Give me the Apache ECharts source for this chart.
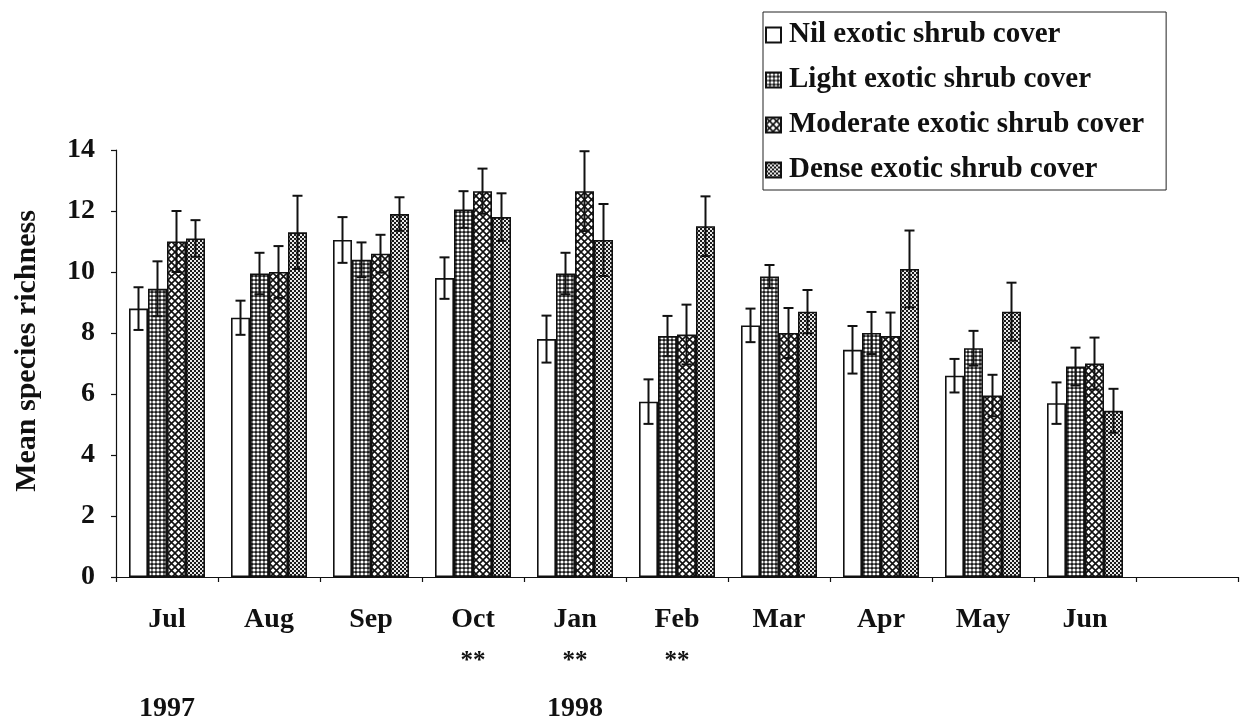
<!DOCTYPE html>
<html>
<head>
<meta charset="utf-8">
<script src="https://cdn.jsdelivr.net/npm/echarts@6/dist/echarts.min.js"></script>
<style>
  html, body { margin: 0; padding: 0; background: #fff; }
  #chart { width: 1240px; height: 723px; }
</style>
</head>
<body>
<div id="chart"></div>
<script>
// Sampling months (last slot left empty so the axis runs on past June)
const months = ['Jul', 'Aug', 'Sep', 'Oct', 'Jan', 'Feb', 'Mar', 'Apr', 'May', 'Jun', ''];
const signif = ['', '', '', '**', '**', '**', '', '', '', '', ''];
const years = ['1997', '', '', '', '1998', '', '', '', '', '', ''];

const seriesNames = [
  'Nil exotic shrub cover',
  'Light exotic shrub cover',
  'Moderate exotic shrub cover',
  'Dense exotic shrub cover'
];

// Mean species richness per month
const nilMean      = [8.8, 8.5, 11.05, 9.8, 7.8, 5.75, 8.25, 7.45, 6.6, 5.7];
const lightMean    = [9.45, 9.95, 10.4, 12.05, 9.95, 7.9, 9.85, 8.0, 7.5, 6.9];
const moderateMean = [11.0, 10.0, 10.6, 12.65, 12.65, 7.95, 8.0, 7.9, 5.95, 7.0];
const denseMean    = [11.1, 11.3, 11.9, 11.8, 11.05, 11.5, 8.7, 10.1, 8.7, 5.45];

// Standard errors
const nilSE      = [0.7, 0.56, 0.75, 0.68, 0.77, 0.73, 0.55, 0.78, 0.55, 0.68];
const lightSE    = [0.9, 0.68, 0.57, 0.6, 0.68, 0.66, 0.38, 0.69, 0.57, 0.62];
const moderateSE = [1.0, 0.85, 0.62, 0.74, 1.31, 0.98, 0.82, 0.77, 0.68, 0.85];
const denseSE    = [0.6, 1.2, 0.55, 0.78, 1.18, 0.98, 0.71, 1.26, 0.95, 0.72];

const yTicks = { min: 0, max: 14, interval: 2 };

const means = [nilMean, lightMean, moderateMean, denseMean];
const errors = [nilSE, lightSE, moderateSE, denseSE];

// Hatch fills drawn into small tiles
function tile(size, draw) {
  const c = document.createElement('canvas');
  c.width = size; c.height = size;
  const g = c.getContext('2d');
  draw(g, size);
  return { image: c, repeat: 'repeat' };
}
const fillNil = '#ffffff';
const fillLight = tile(4, (g, s) => {
  g.fillStyle = '#1a1a1a'; g.fillRect(0, 0, s, s);
  g.fillStyle = '#ffffff';
  g.beginPath(); g.arc(2, 2, 1.6, 0, Math.PI * 2); g.fill();
});
const fillModerate = tile(7, (g, s) => {
  g.fillStyle = '#ffffff'; g.fillRect(0, 0, s, s);
  g.strokeStyle = '#111'; g.lineWidth = 1.6;
  g.beginPath();
  g.moveTo(0, 0); g.lineTo(s, s);
  g.moveTo(s, 0); g.lineTo(0, s);
  g.stroke();
});
const fillDense = tile(4, (g, s) => {
  g.fillStyle = '#e8e8e8'; g.fillRect(0, 0, s, s);
  g.fillStyle = '#1a1a1a';
  g.fillRect(0, 0, 2, 2); g.fillRect(2, 2, 2, 2);
});
const fills = [fillNil, fillLight, fillModerate, fillDense];

const BAR_W = 19;
const FONT = '"Liberation Serif", "Times New Roman", serif';

const barSeries = seriesNames.map((name, i) => ({
  name: name,
  type: 'bar',
  data: means[i],
  barWidth: BAR_W,
  barGap: '0%',
  itemStyle: { color: fills[i], borderColor: '#111', borderWidth: 1.6 },
  z: 2
}));

// Error bar records: [month index, group index, mean, se]
const errData = [];
means.forEach((arr, gi) => arr.forEach((v, mi) => errData.push([mi, gi, v, errors[gi][mi]])));

const errSeries = {
  type: 'custom',
  name: 'se',
  data: errData,
  encode: { x: 0, y: 2 },
  z: 5,
  silent: true,
  renderItem: function (params, api) {
    const mi = api.value(0), gi = api.value(1), v = api.value(2), se = api.value(3);
    const offset = (gi - 1.5) * BAR_W;
    const top = api.coord([mi, v + se]);
    const bot = api.coord([mi, v - se]);
    const x = top[0] + offset;
    const half = 5;
    const style = { stroke: '#111', lineWidth: 2 };
    return {
      type: 'group',
      children: [
        { type: 'line', shape: { x1: x, y1: top[1], x2: x, y2: bot[1] }, style: style },
        { type: 'line', shape: { x1: x - half, y1: top[1], x2: x + half, y2: top[1] }, style: style },
        { type: 'line', shape: { x1: x - half, y1: bot[1], x2: x + half, y2: bot[1] }, style: style }
      ]
    };
  }
};

const chart = echarts.init(document.getElementById('chart'), null, { renderer: 'canvas' });
chart.setOption({
  backgroundColor: '#fff',
  animation: false,
  textStyle: { fontFamily: FONT, color: '#111' },
  grid: { left: 116, right: 2, top: 150, bottom: 145, containLabel: false },
  legend: {
    data: seriesNames,
    orient: 'vertical',
    left: 763,
    top: 12,
    itemWidth: 15,
    itemHeight: 15,
    itemGap: 15,
    padding: [8, 22, 5, 2],
    borderColor: '#222',
    borderWidth: 1,
    icon: 'rect',
    selectedMode: false,
    textStyle: { fontFamily: FONT, fontWeight: 'bold', fontSize: 29, lineHeight: 30, color: '#111', padding: [0, 0, 0, 3] }
  },
  xAxis: {
    type: 'category',
    data: months,
    boundaryGap: true,
    axisLine: { lineStyle: { color: '#111', width: 1.2 } },
    axisTick: { show: true, length: 5, alignWithLabel: false, lineStyle: { color: '#111', width: 1.2 } },
    axisLabel: {
      interval: 0,
      margin: 25,
      formatter: function (val, idx) {
        const s = signif[idx] || ' ';
        const y = years[idx] || ' ';
        return '{m|' + val + '}\n{s|' + s + '}\n{y|' + y + '}';
      },
      rich: {
        m: { fontFamily: FONT, fontWeight: 'bold', fontSize: 28, lineHeight: 36, color: '#111' },
        s: { fontFamily: FONT, fontWeight: 'bold', fontSize: 25, lineHeight: 48, color: '#111' },
        y: { fontFamily: FONT, fontWeight: 'bold', fontSize: 28, lineHeight: 46, color: '#111' }
      }
    },
    splitLine: { show: false }
  },
  yAxis: {
    type: 'value',
    min: yTicks.min,
    max: yTicks.max,
    interval: yTicks.interval,
    name: 'Mean species richness',
    nameLocation: 'middle',
    nameGap: 74,
    nameRotate: 90,
    nameTextStyle: { fontFamily: FONT, fontWeight: 'bold', fontSize: 30, color: '#111', padding: [0, 0, 0, 25] },
    axisLine: { show: true, lineStyle: { color: '#111', width: 1.2 } },
    axisTick: { show: true, length: 5, lineStyle: { color: '#111', width: 1.2 } },
    axisLabel: { fontFamily: FONT, fontWeight: 'bold', fontSize: 28, color: '#111', margin: 21 },
    splitLine: { show: false }
  },
  series: barSeries.concat([errSeries])
});
</script>
</body>
</html>
